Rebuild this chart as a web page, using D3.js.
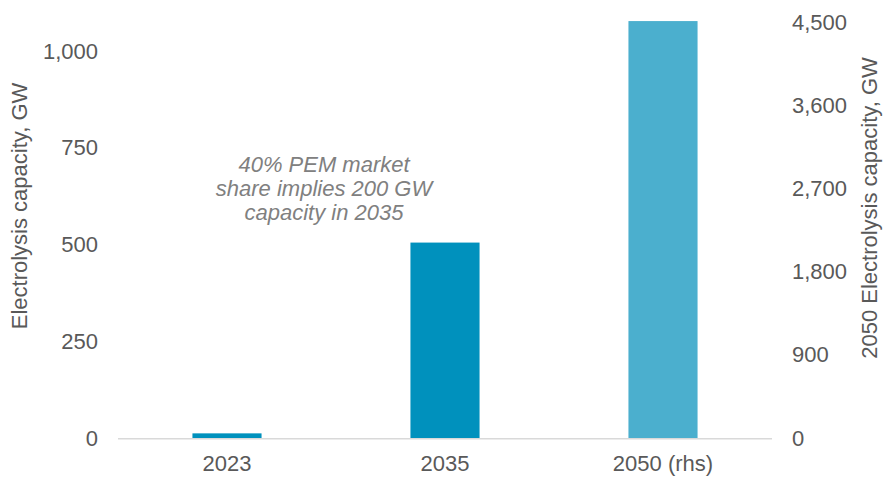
<!DOCTYPE html>
<html lang="en">

<head>
  <meta charset="UTF-8">
  <title>Electrolysis capacity</title>
  <script src="https://d3js.org/d3.v7.min.js"></script>
  <style>
    body { margin: 0; background: #fff; }
    text { font-family: "Liberation Sans", Arial, sans-serif; }
  </style>
</head>

<body>
  <script>

    // data
    var categories = ["2023", "2035", "2050 (rhs)"];
    var values = [12, 505, 4510];
    var onRight = [false, false, true];
    var leftTicks = [0, 250, 500, 750, 1000];
    var rightTicks = [0, 900, 1800, 2700, 3600, 4500];
    var note = ["40% PEM market", "share implies 200 GW", "capacity in 2035"];

    var W = 886, H = 477;
    var plot = { left: 118, right: 772, top: 22, bottom: 438 };

    var x = d3.scaleBand().domain(categories)
      .range([plot.left, plot.right])
      .paddingInner(0.683).paddingOuter(0.3415);
    var yL = d3.scaleLinear().domain([0, 1075]).range([plot.bottom, plot.top]);
    var yR = d3.scaleLinear().domain([0, 4500]).range([plot.bottom, plot.top]);

    var svg = d3.select("body").append("svg")
      .attr("width", W).attr("height", H);

    // bars
    svg.selectAll("rect.bar")
      .data(categories)
      .enter().append("rect")
      .attr("class", "bar")
      .attr("x", function (d) { return x(d); })
      .attr("width", x.bandwidth())
      .attr("y", function (d, i) { return (onRight[i] ? yR : yL)(values[i]); })
      .attr("height", function (d, i) { return plot.bottom - (onRight[i] ? yR : yL)(values[i]); })
      .attr("fill", function (d, i) { return onRight[i] ? "#4bafce" : "#0091bd"; });

    // x axis line
    svg.append("line")
      .attr("x1", plot.left).attr("x2", plot.right)
      .attr("y1", plot.bottom + 0.75).attr("y2", plot.bottom + 0.75)
      .attr("stroke", "#d9d9d9").attr("stroke-width", 1.5);

    function styleAxis(g) {
      g.select(".domain").remove();
      g.selectAll("text").attr("fill", "#595959").style("font-size", "22px");
    }

    svg.append("g")
      .attr("transform", "translate(0," + plot.bottom + ")")
      .call(d3.axisBottom(x).tickSize(0).tickPadding(17))
      .call(styleAxis);

    svg.append("g")
      .attr("transform", "translate(" + plot.left + ",0)")
      .call(d3.axisLeft(yL).tickValues(leftTicks).tickSize(0).tickPadding(20).tickFormat(d3.format(",")))
      .call(styleAxis);

    svg.append("g")
      .attr("transform", "translate(" + plot.right + ",0)")
      .call(d3.axisRight(yR).tickValues(rightTicks).tickSize(0).tickPadding(20).tickFormat(d3.format(",")))
      .call(styleAxis);

    // axis titles
    svg.append("text")
      .attr("transform", "translate(27,206) rotate(-90)")
      .attr("text-anchor", "middle")
      .attr("fill", "#595959")
      .style("font-size", "22px")
      .text("Electrolysis capacity, GW");

    svg.append("text")
      .attr("transform", "translate(877,208) rotate(-90)")
      .attr("text-anchor", "middle")
      .attr("fill", "#595959")
      .style("font-size", "22px")
      .text("2050 Electrolysis capacity, GW");

    // annotation
    svg.append("text")
      .attr("x", 324).attr("y", 172)
      .attr("text-anchor", "middle")
      .attr("fill", "#808080")
      .style("font-size", "22px")
      .style("font-style", "italic")
      .selectAll("tspan")
      .data(note)
      .enter().append("tspan")
      .attr("x", 324)
      .attr("dy", function (d, i) { return i ? 24 : 0; })
      .text(function (d) { return d; });
  </script>
</body>

</html>
